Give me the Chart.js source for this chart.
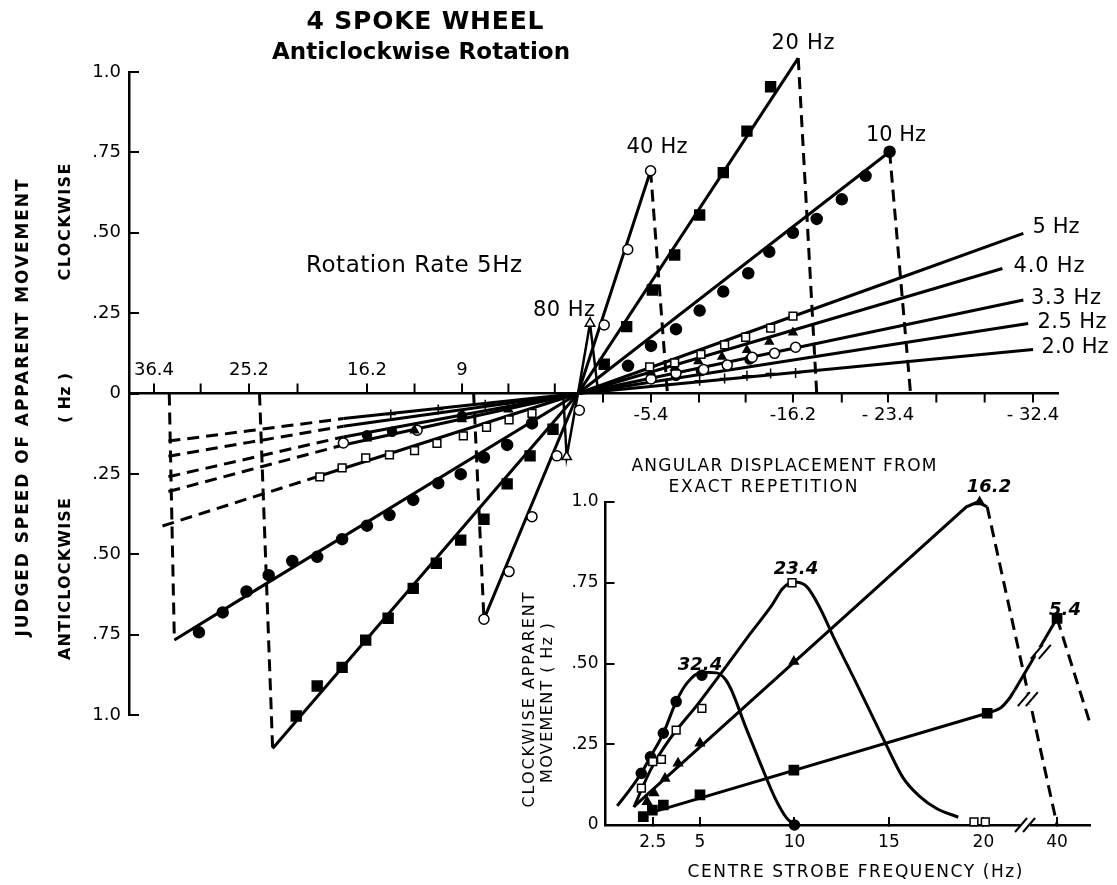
<!DOCTYPE html>
<html>
<head>
<meta charset="utf-8">
<script src="https://cdn.jsdelivr.net/npm/chart.js@4.4.1/dist/chart.umd.min.js"></script>
<style>
  html, body { margin: 0; padding: 0; background: #fff; }
  #wrap { position: relative; width: 1117px; height: 885px; }
  #main { position: absolute; left: 0; top: 0; }
  #inset { position: absolute; left: 480px; top: 440px; }
</style>
</head>
<body>
<div id="wrap">
  <canvas id="main" width="1117" height="885"></canvas>
  <canvas id="inset" width="637" height="445"></canvas>
</div>
<script>
// ---------- main chart: x = angular displacement, y = judged speed (Hz), + = clockwise ----------
const yTickVals = [-1, -0.75, -0.5, -0.25, 0, 0.25, 0.5, 0.75, 1];
const yTickText = ["1.0", ".75", ".50", ".25", "0", ".25", ".50", ".75", "1.0"];
const xTicksLeft = [36.4, 30.9, 25.2, 21.5, 16.2, 12.6, 9, 5.4, 1.8];
const xTicksRight = [-1.85, -5.4, -9.05, -12.6, -16.2, -19.9, -23.4, -26.4, -29.4, -32.4];
const xLabelValsLeft = [36.4, 25.2, 16.2, 9];
const xLabelTextLeft = ["36.4", "25.2", "16.2", "9"];
const xLabelValsRight = [-5.4, -16.2, -23.4, -32.4];
const xLabelTextRight = ["-5.4", "-16.2", "- 23.4", "- 32.4"];

// 10 Hz (filled circles)
const hz10Line = [[34.0, -0.767], [25.2, -0.624], [0, 0], [-23.5, 0.752]];
const hz10DropL = [[34.6, 0], [34.0, -0.767]];
const hz10DropR = [[-23.5, 0.752], [-24.8, 0]];
const hz10Pts = [[-3.7, 0.086], [-5.4, 0.148], [-7.3, 0.2], [-9.1, 0.258], [-10.9, 0.317], [-12.8, 0.374],
  [-14.4, 0.441], [-16.2, 0.5], [-18.0, 0.543], [-19.9, 0.604], [-21.7, 0.677], [-23.5, 0.752],
  [3.57, -0.093], [5.5, -0.16], [7.3, -0.199], [9.1, -0.251], [10.8, -0.279], [12.7, -0.331], [14.5, -0.378],
  [16.2, -0.411], [18.1, -0.453], [20.0, -0.508], [21.9, -0.521], [23.7, -0.565], [25.5, -0.616],
  [28.3, -0.681], [31.1, -0.743]];

// 20 Hz (filled squares)
const hz20Line = [[23.4, -1.104], [0, 0], [-16.6, 1.043]];
const hz20DropL = [[24.4, 0], [23.4, -1.104]];
const hz20DropR = [[-16.6, 1.043], [-18.0, 0]];
const hz20Pts = [[-1.94, 0.091], [-3.6, 0.208], [-5.5, 0.322], [-7.2, 0.431], [-9.1, 0.555], [-10.9, 0.687],
  [-12.7, 0.816], [-14.5, 0.954], [1.94, -0.111], [3.72, -0.194], [5.5, -0.281], [7.3, -0.391], [9.1, -0.456],
  [10.95, -0.528], [12.7, -0.606], [14.6, -0.699], [16.3, -0.767], [18.1, -0.852], [20.0, -0.91],
  [21.6, -1.003], [23.4, -1.104]];

// 40 Hz (open circles)
const hz40Line = [[7.3, -0.702], [0, 0], [-5.37, 0.693]];
const hz40DropL = [[8.1, 0], [7.3, -0.702]];
const hz40DropR = [[-5.37, 0.693], [-6.65, 0]];
const hz40Pts = [[-1.94, 0.213], [-3.68, 0.448], [-5.37, 0.693], [-0.1, -0.052],
  [1.64, -0.194], [3.57, -0.383], [5.35, -0.554], [7.3, -0.702]];

// 80 Hz (open triangles)
const hz80Line = [[1.15, 0], [0.88, -0.197], [0, 0], [-0.89, 0.218], [-1.5, 0]];
const hz80Pts = [[-0.89, 0.218], [0.88, -0.197]];

// low rotation-frequency lines: solid part and dashed extension on the left
const hz5Solid = [[20, -0.259], [0, 0], [-23.4, 0.346], [-31.8, 0.498]];
const hz5Dash = [[35.4, -0.412], [25.2, -0.326], [20, -0.259]];
const hz5Pts = [[-5.3, 0.083], [-7.2, 0.095], [-9.2, 0.122], [-11.0, 0.151], [-12.6, 0.175], [-14.5, 0.203],
  [-16.2, 0.241], [3.57, -0.062], [5.35, -0.082], [7.1, -0.105], [8.9, -0.132], [10.9, -0.155], [12.6, -0.178],
  [14.5, -0.191], [16.3, -0.2], [18.1, -0.231], [19.8, -0.259]];
const hz4Solid = [[18, -0.16], [0, 0], [-23.4, 0.284], [-30.5, 0.389]];
const hz4Dash = [[34.7, -0.305], [25.2, -0.238], [18, -0.16]];
const hz4Pts = [[-5.4, 0.065], [-7.2, 0.08], [-9.0, 0.1], [-10.8, 0.114], [-12.7, 0.135], [-14.4, 0.161],
  [-16.2, 0.19], [5.4, -0.05], [9, -0.08], [12.6, -0.115], [16.2, -0.14]];
const hz33Solid = [[18, -0.135], [0, 0], [-23.4, 0.202], [-31.8, 0.291]];
const hz33Dash = [[34.7, -0.259], [25.2, -0.202], [18, -0.135]];
const hz33Pts = [[-5.4, 0.045], [-7.3, 0.063], [-9.4, 0.075], [-11.2, 0.089], [-13.1, 0.113], [-14.8, 0.125],
  [-16.4, 0.144], [12.4, -0.114], [18, -0.154]];
const hz25Solid = [[18, -0.102], [0, 0], [-23.4, 0.15], [-32.1, 0.218]];
const hz25Dash = [[34.7, -0.195], [25.2, -0.152], [18, -0.102]];
const hz25Pts = [[-7.3, 0.055], [-9.2, 0.07], [-11.2, 0.087], [-12.9, 0.106], [9, -0.07], [14.3, -0.119], [16.2, -0.13]];
const hz2Solid = [[18, -0.078], [0, 0], [-23.4, 0.093], [-32.4, 0.137]];
const hz2Dash = [[34.7, -0.148], [25.2, -0.116], [18, -0.078]];
const hz2Pts = [[-9.1, 0.04], [-11, 0.047], [-12.7, 0.055], [-14.5, 0.062], [-16.4, 0.064], [7.2, -0.035],
  [10.8, -0.05], [14.4, -0.065]];

// ---------- inset: x = centre strobe frequency (Hz), y = clockwise apparent movement (Hz) ----------
const insetXTicks = [2.5, 5, 10, 15, 20, 40];
const insetYTicks = [0, 0.25, 0.5, 0.75, 1];
const insetYText = ["0", ".25", ".50", ".75", "1.0"];

// 16.2 deg (filled triangles)
const d162Line = [[1.5, 0.057], [19.1, 0.985], [19.7, 1.0], [20.2, 0.985]];
const d162Drop = [[20.2, 0.985], [40, 0]];
const d162Pts = [[2.2, 0.072], [2.57, 0.099], [3.15, 0.144], [3.84, 0.191], [5.0, 0.253], [9.97, 0.506], [19.8, 1.0]];
// 23.4 deg (open squares)
const d234Curve = [[1.5, 0.055], [2.38, 0.17], [3.35, 0.262], [4.91, 0.376], [6.27, 0.482], [7.63, 0.59],
  [8.8, 0.68], [9.39, 0.733], [9.97, 0.752], [10.65, 0.738], [11.35, 0.672], [12.1, 0.578], [13.1, 0.46],
  [14.0, 0.352], [14.8, 0.255], [15.76, 0.145], [16.64, 0.088], [17.5, 0.052], [18.67, 0.024]];
const d234Pts = [[1.9, 0.114], [2.5, 0.196], [2.96, 0.203], [3.74, 0.294], [5.1, 0.361], [9.87, 0.75], [19.5, 0.01], [20.1, 0.01]];
// 32.4 deg (filled circles)
const d324Curve = [[0.62, 0.059], [1.3, 0.11], [1.89, 0.16], [2.38, 0.211], [3.06, 0.284], [3.74, 0.382],
  [4.32, 0.44], [5.1, 0.473], [5.88, 0.471], [6.37, 0.449], [6.66, 0.418], [7.44, 0.3], [8.2, 0.19],
  [9.0, 0.08], [9.58, 0.022], [9.93, 0.004]];
const d324Pts = [[1.89, 0.16], [2.38, 0.211], [3.06, 0.284], [3.74, 0.382], [5.1, 0.464], [10, 0]];
// 5.4 deg (filled squares)
const d54Line = [[2.5, 0.04], [20.2, 0.346]];
const d54Bend = [[20.2, 0.346], [20.9, 0.362], [21.35, 0.39], [21.66, 0.418]];
const d54Rise = [[21.66, 0.418], [40, 0.64]];
const d54Drop = [[40, 0.64], [45, 0.315]];
const d54Pts = [[2.0, 0.026], [2.48, 0.046], [3.06, 0.062], [5.0, 0.093], [9.97, 0.17], [20.2, 0.346], [40, 0.64]];
// axis / line break marks
const breakMarks = [[26.6, 0], [29.9, 0.39], [37.9, 0.536]];

// piecewise-linear axis, the figure's own hand-drawn spacing: [value, fraction of axis length]
const MAIN_WARP = [[-33.95, 1], [-32.4, 0.9731], [-23.4, 0.817], [-16.2, 0.7147], [-5.4, 0.5619], [0, 0.4833],
  [9, 0.3585], [16.2, 0.2562], [25.2, 0.1292], [36.4, 0.0269], [39.35, 0]];
const INSET_WARP = [[0, 0], [22, 0.858], [37, 0.884], [40, 0.932], [45, 1]];

class WarpScale extends Chart.LinearScale {
  _anchors() { return this.chart.config.options.scales[this.id].warp; }
  getPixelForValue(v) {
    if (v === null || v === undefined || isNaN(v)) return NaN;
    const a = this._anchors();
    let i = 0;
    while (i < a.length - 2 && v > a[i + 1][0]) i++;
    const f = a[i][1] + (v - a[i][0]) * (a[i + 1][1] - a[i][1]) / (a[i + 1][0] - a[i][0]);
    return this.isHorizontal() ? this.left + f * this.width : this.bottom - f * this.height;
  }
  getValueForPixel(p) {
    const f = this.isHorizontal() ? (p - this.left) / this.width : (this.bottom - p) / this.height;
    const a = this._anchors();
    for (let i = 0; i < a.length - 1; i++) {
      const [v0, f0] = a[i], [v1, f1] = a[i + 1];
      if ((f - f0) * (f - f1) <= 0) return v0 + (f - f0) * (v1 - v0) / (f1 - f0);
    }
    return a[0][0];
  }
}
WarpScale.id = "warp";
WarpScale.defaults = Chart.LinearScale.defaults;
Chart.register(WarpScale);

const FONT = '"DejaVu Sans", sans-serif';
const pts = (a) => a.map(([x, y]) => ({ x, y }));

function path(data, dashed, width) {
  return {
    data: pts(data), showLine: true, borderColor: "#000", borderWidth: width || 3,
    borderDash: dashed ? [12, 7] : [], pointRadius: 0, pointHoverRadius: 0,
    tension: 0, fill: false, order: 1, clip: false,
  };
}
function curve(data) {
  const d = path(data, false, 3);
  d.cubicInterpolationMode = "monotone";
  return d;
}
function marks(data, style, filled, r) {
  return {
    data: pts(data), showLine: false, pointStyle: style, pointRadius: r, pointHoverRadius: r,
    pointBackgroundColor: filled ? "#000" : "#fff", pointBorderColor: "#000", pointBorderWidth: 1.5,
    order: 0, clip: false,
  };
}

// centred text, stretched with letter spacing to the width it has in the figure
function drawText(ctx, t) {
  ctx.save();
  ctx.translate(t.x, t.y);
  if (t.rot) ctx.rotate(t.rot);
  let size = t.size;
  const font = (s) => `${t.italic ? "italic " : ""}${t.bold ? "bold " : ""}${s}px ${FONT}`;
  ctx.font = font(size);
  let natural = ctx.measureText(t.text).width;
  const w = t.w || natural;
  if (natural > w) {
    size = size * w / natural;
    ctx.font = font(size);
    natural = ctx.measureText(t.text).width;
  }
  const n = t.text.length;
  const gap = n > 1 ? (w - natural) / (n - 1) : 0;
  if ("letterSpacing" in ctx) ctx.letterSpacing = gap.toFixed(2) + "px";
  ctx.fillStyle = "#000";
  ctx.textAlign = "left";
  ctx.textBaseline = "middle";
  ctx.fillText(t.text, -w / 2, 0);
  ctx.restore();
}

const UP = -Math.PI / 2;
const mainTexts = [
  { text: "4 SPOKE WHEEL", x: 425, y: 22, w: 237, size: 25, bold: true },
  { text: "Anticlockwise Rotation", x: 421, y: 53, w: 298, size: 23, bold: true },
  { text: "Rotation Rate 5Hz", x: 414, y: 266, w: 216, size: 23 },
  { text: "80 Hz", x: 564, y: 311, w: 62, size: 21 },
  { text: "40 Hz", x: 657, y: 148, w: 61, size: 21 },
  { text: "20 Hz", x: 803, y: 44, w: 63, size: 21 },
  { text: "10 Hz", x: 896, y: 136, w: 60, size: 21 },
  { text: "5 Hz", x: 1056, y: 228, w: 47, size: 21 },
  { text: "4.0 Hz", x: 1049, y: 267, w: 71, size: 21 },
  { text: "3.3 Hz", x: 1066, y: 299, w: 70, size: 21 },
  { text: "2.5 Hz", x: 1072, y: 323, w: 69, size: 21 },
  { text: "2.0 Hz", x: 1075, y: 348, w: 67, size: 21 },
  { text: "JUDGED SPEED OF APPARENT MOVEMENT", x: 24, y: 408, w: 457, size: 17, bold: true, rot: UP },
  { text: "CLOCKWISE", x: 66, y: 222, w: 117, size: 16, bold: true, rot: UP },
  { text: "( Hz )", x: 66, y: 398, w: 50, size: 16, bold: true, rot: UP },
  { text: "ANTICLOCKWISE", x: 66, y: 579, w: 162, size: 16, bold: true, rot: UP },
];
const insetTexts = [
  { text: "ANGULAR DISPLACEMENT FROM", x: 784, y: 467, w: 305, size: 17 },
  { text: "EXACT REPETITION", x: 763, y: 488, w: 189, size: 17 },
  { text: "CENTRE STROBE FREQUENCY (Hz)", x: 855, y: 873, w: 335, size: 17 },
  { text: "CLOCKWISE APPARENT", x: 530, y: 700, w: 215, size: 16, rot: UP },
  { text: "MOVEMENT ( Hz )", x: 548, y: 703, w: 160, size: 16, rot: UP },
  { text: "16.2", x: 989, y: 487, size: 18, bold: true, italic: true },
  { text: "23.4", x: 796, y: 569, size: 18, bold: true, italic: true },
  { text: "32.4", x: 700, y: 665, size: 18, bold: true, italic: true },
  { text: "5.4", x: 1065, y: 610, size: 18, bold: true, italic: true },
];

// x ticks above the axis on the left, below it on the right
const mainDecor = {
  id: "mainDecor",
  afterDraw(chart) {
    const { ctx } = chart;
    const { x, y } = chart.scales;
    const y0 = y.getPixelForValue(0);
    ctx.save();
    ctx.strokeStyle = "#000";
    ctx.lineWidth = 2;
    ctx.beginPath();
    xTicksLeft.forEach((v) => { const p = x.getPixelForValue(v); ctx.moveTo(p, y0); ctx.lineTo(p, y0 - 10); });
    xTicksRight.forEach((v) => { const p = x.getPixelForValue(v); ctx.moveTo(p, y0); ctx.lineTo(p, y0 + 9); });
    ctx.stroke();
    ctx.fillStyle = "#000";
    ctx.font = `18px ${FONT}`;
    ctx.textAlign = "center";
    ctx.textBaseline = "middle";
    xLabelValsLeft.forEach((v, i) => ctx.fillText(xLabelTextLeft[i], x.getPixelForValue(v), y0 - 23));
    xLabelValsRight.forEach((v, i) => ctx.fillText(xLabelTextRight[i], x.getPixelForValue(v), y0 + 22));
    ctx.restore();
    mainTexts.forEach((t) => drawText(ctx, t));
  },
};

new Chart(document.getElementById("main"), {
  type: "line",
  data: {
    datasets: [
      marks(hz10Pts, "circle", true, 5.5),
      marks(hz20Pts, "rect", true, 7),
      marks(hz40Pts, "circle", false, 5),
      marks(hz80Pts, "triangle", false, 5.5),
      marks(hz5Pts, "rect", false, 5.5),
      marks(hz4Pts, "triangle", true, 4.5),
      marks(hz33Pts, "circle", false, 5),
      marks(hz25Pts, "circle", true, 4.5),
      marks(hz2Pts, "cross", false, 5),
      path(hz10Line), path(hz10DropL, true), path(hz10DropR, true),
      path(hz20Line), path(hz20DropL, true), path(hz20DropR, true),
      path(hz40Line), path(hz40DropL, true), path(hz40DropR, true),
      path(hz80Line, false, 2.5),
      path(hz5Solid), path(hz5Dash, true),
      path(hz4Solid), path(hz4Dash, true),
      path(hz33Solid), path(hz33Dash, true),
      path(hz25Solid), path(hz25Dash, true),
      path(hz2Solid), path(hz2Dash, true),
    ],
  },
  options: {
    responsive: false,
    animation: false,
    devicePixelRatio: 1,
    layout: { padding: { left: 0, top: 72, right: 59, bottom: 170 } },
    plugins: { legend: { display: false }, tooltip: { enabled: false } },
    scales: {
      x: {
        type: "warp", warp: MAIN_WARP, min: -33.95, max: 39.35, position: { y: 0 },
        grid: { display: true, drawOnChartArea: false, drawTicks: false },
        border: { display: true, color: "#000", width: 2.5 },
        ticks: { display: false },
      },
      y: {
        type: "linear", min: -1, max: 1, position: "left",
        afterFit: (s) => { s.width = 129; },
        afterBuildTicks: (s) => { s.ticks = yTickVals.map((v) => ({ value: v })); },
        grid: { drawOnChartArea: false, tickLength: -10, color: "#000", lineWidth: 2 },
        border: { color: "#000", width: 2.5 },
        ticks: {
          padding: 18, color: "#000", font: { family: FONT, size: 18 },
          callback: (v) => yTickText[yTickVals.indexOf(v)],
        },
      },
    },
  },
  plugins: [mainDecor],
});

// break marks and labels of the inset
const insetDecor = {
  id: "insetDecor",
  afterDraw(chart) {
    const { ctx } = chart;
    const { x, y } = chart.scales;
    ctx.save();
    breakMarks.forEach(([bx, by]) => {
      const px = x.getPixelForValue(bx), py = y.getPixelForValue(by);
      ctx.fillStyle = "#fff";
      ctx.fillRect(px - 5, py - 5, 10, 10);
      ctx.strokeStyle = "#000";
      ctx.lineWidth = 2;
      ctx.beginPath();
      [-4, 4].forEach((o) => { ctx.moveTo(px + o - 6, py + 7); ctx.lineTo(px + o + 6, py - 7); });
      ctx.stroke();
    });
    ctx.restore();
    ctx.save();
    ctx.translate(-480, -440);
    insetTexts.forEach((t) => drawText(ctx, t));
    ctx.restore();
  },
};

new Chart(document.getElementById("inset"), {
  type: "line",
  data: {
    datasets: [
      marks(d162Pts, "triangle", true, 5),
      marks(d234Pts, "rect", false, 5.5),
      marks(d324Pts, "circle", true, 5),
      marks(d54Pts, "rect", true, 6.5),
      path(d162Line), path(d162Drop, true),
      curve(d234Curve),
      curve(d324Curve),
      path(d54Line), curve(d54Bend), path(d54Rise), path(d54Drop, true),
    ],
  },
  options: {
    responsive: false,
    animation: false,
    devicePixelRatio: 1,
    layout: { padding: { left: 0, top: 62, right: 27, bottom: 0 } },
    plugins: { legend: { display: false }, tooltip: { enabled: false } },
    scales: {
      x: {
        type: "warp", warp: INSET_WARP, min: 0, max: 45, position: "bottom",
        afterFit: (s) => { s.height = 60; },
        afterBuildTicks: (s) => { s.ticks = insetXTicks.map((v) => ({ value: v })); },
        grid: { drawOnChartArea: false, tickLength: -8, color: "#000", lineWidth: 2 },
        border: { color: "#000", width: 2.5 },
        ticks: {
          padding: 15, autoSkip: false, maxRotation: 0, color: "#000", font: { family: FONT, size: 17 },
          callback: (v) => String(v),
        },
      },
      y: {
        type: "linear", min: 0, max: 1, position: "left",
        afterFit: (s) => { s.width = 125.5; },
        afterBuildTicks: (s) => { s.ticks = insetYTicks.map((v) => ({ value: v })); },
        grid: { drawOnChartArea: false, tickLength: -9, color: "#000", lineWidth: 2 },
        border: { color: "#000", width: 2.5 },
        ticks: {
          padding: 16, color: "#000", font: { family: FONT, size: 17 },
          callback: (v) => insetYText[insetYTicks.indexOf(v)],
        },
      },
    },
  },
  plugins: [insetDecor],
});
</script>
</body>
</html>
